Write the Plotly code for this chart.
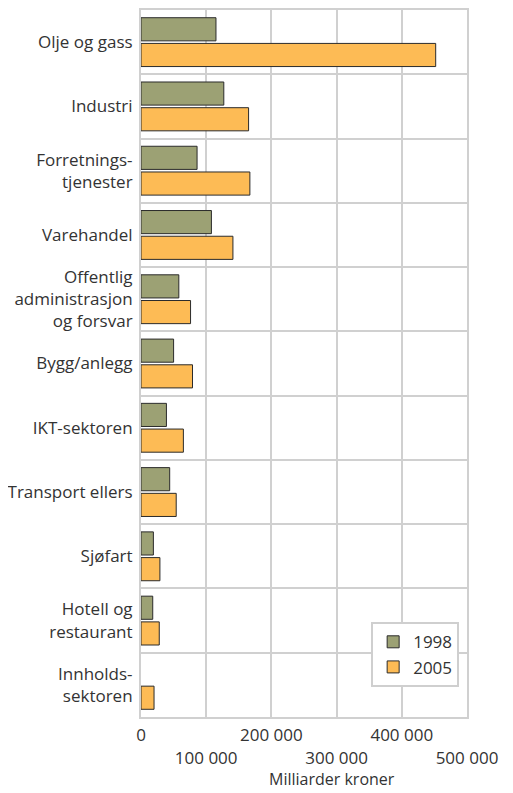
import plotly.graph_objects as go

categories = ['Olje og gass', 'Industri', 'Forretnings-<br>tjenester', 'Varehandel',
              'Offentlig<br>administrasjon<br>og forsvar', 'Bygg/anlegg', 'IKT-sektoren',
              'Transport ellers', 'Sjøfart', 'Hotell og<br>restaurant', 'Innholds-<br>sektoren']
values_1998 = [115000, 127000, 86000, 108000, 58000, 50000, 39000, 44000, 19000, 18000, None]
values_2005 = [452000, 165000, 167000, 141000, 76000, 79000, 65000, 54000, 29000, 28000, 20000]
tick_vals = [0, 100000, 200000, 300000, 400000, 500000]
tick_text = ['0', '<br>100 000', '200 000', '<br>300 000', '400 000', '<br>500 000']

fig = go.Figure()
fig.add_trace(go.Bar(name='1998', y=categories, x=values_1998, orientation='h',
                     marker=dict(color='#9ca174', line=dict(color='#2b2b2b', width=1))))
fig.add_trace(go.Bar(name='2005', y=categories, x=values_2005, orientation='h',
                     marker=dict(color='#fdbb55', line=dict(color='#2b2b2b', width=1))))

# page has an 8px body margin, so the figure is drawn 8px smaller
fig.update_layout(
    width=505, height=785,
    margin=dict(l=127, r=46, t=0, b=76),
    plot_bgcolor='white', paper_bgcolor='white',
    font=dict(family='Open Sans', size=17, color='#333333'),
    barmode='group', bargap=0.2, bargroupgap=0.1,
    legend=dict(x=0.706, y=0.134, xanchor='left', yanchor='top',
                bgcolor='white', bordercolor='#cfcfcf', borderwidth=2,
                traceorder='normal', font=dict(size=17)),
    annotations=[dict(text='Milliarder kroner', xref='paper', yref='paper',
                      x=0.585, y=-0.088, xanchor='center', yanchor='middle',
                      showarrow=False, font=dict(size=16))],
)
fig.update_xaxes(range=[0, 500000], tickvals=tick_vals, ticktext=tick_text,
                 showgrid=True, gridcolor='#d0d0d0', gridwidth=2,
                 showline=True, linecolor='#d0d0d0', linewidth=2, mirror=True,
                 zeroline=False, ticks='', ticklabelstandoff=2)
fig.update_yaxes(autorange='reversed', tickson='boundaries',
                 showgrid=True, gridcolor='#d0d0d0', gridwidth=2,
                 showline=True, linecolor='#d0d0d0', linewidth=2, mirror=True,
                 ticks='', ticklabelstandoff=3)

fig.write_html("out.html")
